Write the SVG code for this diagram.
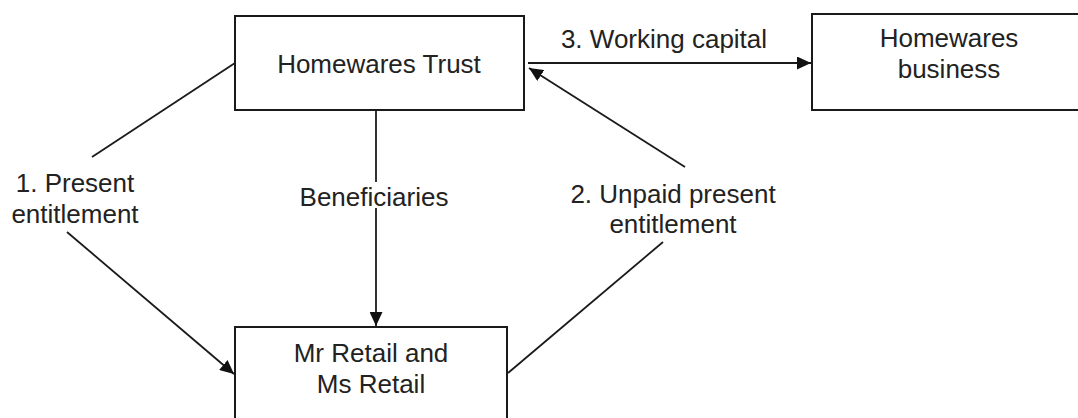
<svg xmlns="http://www.w3.org/2000/svg" width="1078" height="418" viewBox="0 0 1078 418">
<style>
.box{fill:#fff;stroke:#1a1a1a;stroke-width:2}
.ln{fill:none;stroke:#1a1a1a;stroke-width:1.8}
text{font-family:"Liberation Sans",Arial,sans-serif;font-size:26px;fill:#222;text-anchor:middle}
</style>
<defs>
<marker id="ah" viewBox="0 0 14 13" refX="14" refY="6.5" markerWidth="14" markerHeight="13" markerUnits="userSpaceOnUse" orient="auto">
<path d="M0,0 L14,6.5 L0,13 Z" fill="#111"/>
</marker>
</defs>
<rect width="1078" height="418" fill="#fff"/>
<g id="connectors">
<line class="ln" x1="528" y1="63" x2="811" y2="63" marker-end="url(#ah)"/>
<line class="ln" x1="376" y1="111" x2="376" y2="182"/>
<line class="ln" x1="376" y1="208" x2="376" y2="326" marker-end="url(#ah)"/>
<line class="ln" x1="235" y1="63" x2="92" y2="157"/>
<line class="ln" x1="67" y1="232" x2="234" y2="374" marker-end="url(#ah)"/>
<line class="ln" x1="508" y1="373" x2="663" y2="242"/>
<line class="ln" x1="685" y1="167" x2="529" y2="68" marker-end="url(#ah)"/>
<text x="664" y="48">3. Working capital</text>
<text x="374" y="206">Beneficiaries</text>
<text x="75" y="192">1. Present</text>
<text x="75" y="223">entitlement</text>
<text x="673" y="203">2. Unpaid present</text>
<text x="673" y="233">entitlement</text>
</g>
<g id="trust">
<rect class="box" x="235" y="16" width="289" height="94"/>
<text x="379" y="73">Homewares Trust</text>
</g>
<g id="business">
<rect class="box" x="812" y="14" width="276" height="96"/>
<text x="949" y="47">Homewares</text>
<text x="949" y="78">business</text>
</g>
<g id="retail">
<rect class="box" x="235" y="327" width="272" height="100"/>
<text x="371" y="362">Mr Retail and</text>
<text x="371" y="393">Ms Retail</text>
</g>
</svg>
